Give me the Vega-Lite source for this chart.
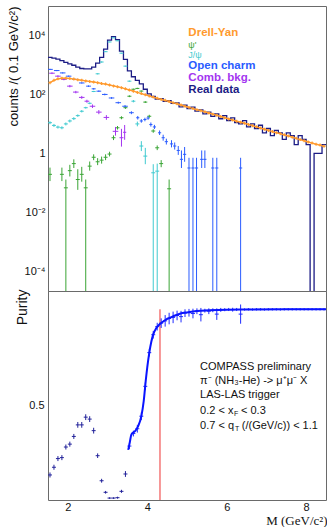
{
"$schema":"https://vega.github.io/schema/vega-lite/v6.json",
"background":"white",
"padding":{"left":6,"top":5,"right":0,"bottom":0},
"spacing":0,
"bounds":"flush",
"resolve":{"scale":{"color":"independent"}},
"config":{"view":{"stroke":"#6a6a6a","strokeWidth":1},"font":"Liberation Sans","axis":{"grid":false,"domain":false,"tickColor":"#444","labelColor":"#111","titleColor":"#111","labelFont":"Liberation Sans","titleFont":"Liberation Sans"}},
"datasets":{
"data":[{"x":1.5,"n":1820},{"x":1.55,"n":1820},{"x":1.65,"n":1700},{"x":1.75,"n":1585},{"x":1.85,"n":1413},{"x":1.95,"n":1230},{"x":2.05,"n":1096},{"x":2.15,"n":977},{"x":2.25,"n":851},{"x":2.35,"n":759},{"x":2.45,"n":741},{"x":2.55,"n":741},{"x":2.65,"n":851},{"x":2.75,"n":1148},{"x":2.85,"n":1820},{"x":2.95,"n":3467},{"x":3.05,"n":6918},{"x":3.15,"n":9120},{"x":3.25,"n":7244},{"x":3.35,"n":2951},{"x":3.45,"n":1549},{"x":3.55,"n":631},{"x":3.65,"n":398},{"x":3.75,"n":300},{"x":3.85,"n":230},{"x":3.95,"n":150},{"x":4.05,"n":105},{"x":4.15,"n":85},{"x":4.25,"n":70},{"x":4.35,"n":72},{"x":4.45,"n":58},{"x":4.55,"n":62},{"x":4.65,"n":50},{"x":4.75,"n":52},{"x":4.85,"n":38},{"x":4.95,"n":43},{"x":5.05,"n":33},{"x":5.15,"n":37},{"x":5.25,"n":27},{"x":5.35,"n":30},{"x":5.45,"n":22},{"x":5.55,"n":25},{"x":5.65,"n":18},{"x":5.75,"n":22},{"x":5.85,"n":15},{"x":5.95,"n":19},{"x":6.05,"n":13},{"x":6.15,"n":16},{"x":6.25,"n":11},{"x":6.35,"n":10},{"x":6.45,"n":13},{"x":6.55,"n":8},{"x":6.65,"n":10},{"x":6.75,"n":7},{"x":6.85,"n":9},{"x":6.95,"n":5},{"x":7.05,"n":7},{"x":7.15,"n":4},{"x":7.25,"n":6},{"x":7.35,"n":5},{"x":7.45,"n":3},{"x":7.55,"n":5},{"x":7.65,"n":4},{"x":7.75,"n":2},{"x":7.85,"n":4},{"x":7.95,"n":3},{"x":8.05,"n":2},{"x":8.15,"n":0.000001},{"x":8.25,"n":1},{"x":8.35,"n":1},{"x":8.45,"n":2},{"x":8.5,"n":2}],
"dy":[{"x":1.55,"y":251},{"x":1.65,"y":302},{"x":1.75,"y":339},{"x":1.85,"y":355},{"x":1.95,"y":355},{"x":2.05,"y":347},{"x":2.15,"y":331},{"x":2.25,"y":316},{"x":2.35,"y":302},{"x":2.45,"y":288},{"x":2.55,"y":275},{"x":2.65,"y":263},{"x":2.75,"y":251},{"x":2.85,"y":234},{"x":2.95,"y":224},{"x":3.05,"y":209},{"x":3.15,"y":195},{"x":3.25,"y":182},{"x":3.35,"y":170},{"x":3.45,"y":155},{"x":3.55,"y":141},{"x":3.65,"y":129},{"x":3.75,"y":117},{"x":3.85,"y":107},{"x":3.95,"y":97.7},{"x":4.05,"y":89.1},{"x":4.15,"y":81.3},{"x":4.25,"y":74.1},{"x":4.35,"y":67.6},{"x":4.45,"y":63.1},{"x":4.55,"y":57.5},{"x":4.65,"y":52.5},{"x":4.75,"y":47.9},{"x":4.85,"y":43.7},{"x":4.95,"y":39.8},{"x":5.05,"y":36.3},{"x":5.15,"y":33.1},{"x":5.25,"y":30.2},{"x":5.35,"y":28.2},{"x":5.45,"y":25.7},{"x":5.55,"y":23.4},{"x":5.65,"y":21.4},{"x":5.75,"y":19.5},{"x":5.85,"y":17.8},{"x":5.95,"y":16.2},{"x":6.05,"y":14.8},{"x":6.15,"y":13.5},{"x":6.25,"y":12.3},{"x":6.35,"y":11.5},{"x":6.45,"y":10.5},{"x":6.55,"y":9.55},{"x":6.65,"y":8.71},{"x":6.75,"y":7.94},{"x":6.85,"y":7.24},{"x":6.95,"y":6.61},{"x":7.05,"y":6.03},{"x":7.15,"y":5.5},{"x":7.25,"y":5.01},{"x":7.35,"y":4.68},{"x":7.45,"y":4.27},{"x":7.55,"y":3.89},{"x":7.65,"y":3.55},{"x":7.75,"y":3.24},{"x":7.85,"y":2.95},{"x":7.95,"y":2.69},{"x":8.05,"y":2.45},{"x":8.15,"y":2.24},{"x":8.25,"y":2.04},{"x":8.35,"y":1.91},{"x":8.45,"y":1.74}],
"comp":[
{"s":"jpsi","x":1.55,"xlo":1.5,"xhi":1.6,"y":11.0,"lo":9.8,"hi":12.3},
{"s":"jpsi","x":1.65,"xlo":1.6,"xhi":1.7,"y":8.9,"lo":7.9,"hi":10.0},
{"s":"jpsi","x":1.75,"xlo":1.7,"xhi":1.8,"y":7.8,"lo":6.95,"hi":8.75},
{"s":"jpsi","x":1.85,"xlo":1.8,"xhi":1.9,"y":7.4,"lo":6.6,"hi":8.3},
{"s":"jpsi","x":1.95,"xlo":1.9,"xhi":2.0,"y":10.0,"lo":8.9,"hi":11.2},
{"s":"jpsi","x":2.05,"xlo":2.0,"xhi":2.1,"y":12.6,"lo":11.2,"hi":14.1},
{"s":"jpsi","x":2.15,"xlo":2.1,"xhi":2.2,"y":15.1,"lo":13.5,"hi":16.9},
{"s":"jpsi","x":2.25,"xlo":2.2,"xhi":2.3,"y":19.1,"lo":17.4,"hi":21.0},
{"s":"jpsi","x":2.35,"xlo":2.3,"xhi":2.4,"y":26.9,"lo":24.5,"hi":29.5},
{"s":"jpsi","x":2.45,"xlo":2.4,"xhi":2.5,"y":35.5,"lo":33.1,"hi":38.1},
{"s":"jpsi","x":2.55,"xlo":2.5,"xhi":2.6,"y":50.1,"lo":46.7,"hi":53.7},
{"s":"jpsi","x":2.65,"xlo":2.6,"xhi":2.7,"y":126,"lo":120,"hi":132},
{"s":"jpsi","x":2.75,"xlo":2.7,"xhi":2.8,"y":501,"lo":478,"hi":525},
{"s":"jpsi","x":2.85,"xlo":2.8,"xhi":2.9,"y":1259,"lo":1200,"hi":1320},
{"s":"jpsi","x":2.95,"xlo":2.9,"xhi":3.0,"y":2818,"lo":2750,"hi":2890},
{"s":"jpsi","x":3.05,"xlo":3.0,"xhi":3.1,"y":6026,"lo":5900,"hi":6150},
{"s":"jpsi","x":3.15,"xlo":3.1,"xhi":3.2,"y":8318,"lo":8150,"hi":8490},
{"s":"jpsi","x":3.25,"xlo":3.2,"xhi":3.3,"y":6607,"lo":6470,"hi":6750},
{"s":"jpsi","x":3.35,"xlo":3.3,"xhi":3.4,"y":2512,"lo":2450,"hi":2575},
{"s":"jpsi","x":3.45,"xlo":3.4,"xhi":3.5,"y":912,"lo":880,"hi":945},
{"s":"jpsi","x":3.55,"xlo":3.5,"xhi":3.6,"y":282,"lo":270,"hi":295},
{"s":"jpsi","x":3.65,"xlo":3.6,"xhi":3.7,"y":59,"lo":53.8,"hi":64.7},
{"s":"jpsi","x":3.75,"xlo":3.7,"xhi":3.8,"y":10,"lo":8.3,"hi":12.0},
{"s":"jpsi","x":3.85,"xlo":3.8,"xhi":3.9,"y":1.78,"lo":1.2,"hi":2.6},
{"s":"jpsi","x":3.95,"xlo":3.9,"xhi":4.0,"y":0.81,"lo":0.43,"hi":1.54},
{"s":"jpsi","x":4.15,"xlo":4.1,"xhi":4.2,"y":0.22,"lo":0.000001,"hi":0.43},
{"s":"jpsi","x":4.25,"xlo":4.2,"xhi":4.3,"y":0.25,"lo":0.000001,"hi":0.45},
{"s":"psip","x":1.55,"xlo":1.5,"xhi":1.6,"y":0.195,"lo":0.115,"hi":0.33},
{"s":"psip","x":1.85,"xlo":1.8,"xhi":1.9,"y":0.195,"lo":0.115,"hi":0.33},
{"s":"psip","x":1.95,"xlo":1.9,"xhi":2.0,"y":0.068,"lo":0.000001,"hi":0.13},
{"s":"psip","x":2.05,"xlo":2.0,"xhi":2.1,"y":0.26,"lo":0.165,"hi":0.41},
{"s":"psip","x":2.15,"xlo":2.1,"xhi":2.2,"y":0.45,"lo":0.32,"hi":0.63},
{"s":"psip","x":2.25,"xlo":2.2,"xhi":2.3,"y":0.13,"lo":0.058,"hi":0.29},
{"s":"psip","x":2.35,"xlo":2.3,"xhi":2.4,"y":0.195,"lo":0.11,"hi":0.35},
{"s":"psip","x":2.45,"xlo":2.4,"xhi":2.5,"y":0.068,"lo":0.000001,"hi":0.13},
{"s":"psip","x":2.55,"xlo":2.5,"xhi":2.6,"y":0.37,"lo":0.26,"hi":0.53},
{"s":"psip","x":2.65,"xlo":2.6,"xhi":2.7,"y":0.74,"lo":0.59,"hi":0.93},
{"s":"psip","x":2.75,"xlo":2.7,"xhi":2.8,"y":0.52,"lo":0.4,"hi":0.69},
{"s":"psip","x":2.85,"xlo":2.8,"xhi":2.9,"y":0.59,"lo":0.45,"hi":0.78},
{"s":"psip","x":2.95,"xlo":2.9,"xhi":3.0,"y":0.74,"lo":0.59,"hi":0.93},
{"s":"psip","x":3.05,"xlo":3.0,"xhi":3.1,"y":0.95,"lo":0.79,"hi":1.14},
{"s":"psip","x":3.15,"xlo":3.1,"xhi":3.2,"y":3.4,"lo":2.83,"hi":4.09},
{"s":"psip","x":3.25,"xlo":3.2,"xhi":3.3,"y":7.4,"lo":6.45,"hi":8.5},
{"s":"psip","x":3.35,"xlo":3.3,"xhi":3.4,"y":16.2,"lo":14.4,"hi":18.2},
{"s":"psip","x":3.45,"xlo":3.4,"xhi":3.5,"y":35.5,"lo":32.4,"hi":38.9},
{"s":"psip","x":3.55,"xlo":3.5,"xhi":3.6,"y":87,"lo":81,"hi":93},
{"s":"psip","x":3.65,"xlo":3.6,"xhi":3.7,"y":150,"lo":143,"hi":157},
{"s":"psip","x":3.75,"xlo":3.7,"xhi":3.8,"y":160,"lo":152,"hi":168},
{"s":"psip","x":3.85,"xlo":3.8,"xhi":3.9,"y":130,"lo":124,"hi":136},
{"s":"psip","x":3.95,"xlo":3.9,"xhi":4.0,"y":55,"lo":51.3,"hi":59},
{"s":"psip","x":4.05,"xlo":4.0,"xhi":4.1,"y":18.2,"lo":16.2,"hi":20.4},
{"s":"psip","x":4.15,"xlo":4.1,"xhi":4.2,"y":5.75,"lo":5.0,"hi":6.6},
{"s":"psip","x":4.25,"xlo":4.2,"xhi":4.3,"y":1.55,"lo":1.29,"hi":1.86},
{"s":"psip","x":4.35,"xlo":4.3,"xhi":4.4,"y":0.45,"lo":0.34,"hi":0.59},
{"s":"psip","x":4.55,"xlo":4.5,"xhi":4.6,"y":0.063,"lo":0.000001,"hi":0.13},
{"s":"cb","x":1.6,"xlo":1.53,"xhi":1.67,"y":525,"lo":490,"hi":562},
{"s":"cb","x":1.75,"xlo":1.68,"xhi":1.82,"y":417,"lo":389,"hi":447},
{"s":"cb","x":1.9,"xlo":1.83,"xhi":1.97,"y":324,"lo":302,"hi":347},
{"s":"cb","x":2.05,"xlo":1.98,"xhi":2.12,"y":191,"lo":174,"hi":210},
{"s":"cb","x":2.2,"xlo":2.13,"xhi":2.27,"y":120,"lo":109,"hi":132},
{"s":"cb","x":2.35,"xlo":2.28,"xhi":2.42,"y":79.4,"lo":70.8,"hi":89.1},
{"s":"cb","x":2.48,"xlo":2.42,"xhi":2.54,"y":58.9,"lo":52.5,"hi":66.1},
{"s":"cb","x":2.62,"xlo":2.55,"xhi":2.69,"y":39.8,"lo":34.7,"hi":45.7},
{"s":"cb","x":2.78,"xlo":2.71,"xhi":2.85,"y":25.1,"lo":21.4,"hi":29.5},
{"s":"cb","x":2.97,"xlo":2.9,"xhi":3.04,"y":16.6,"lo":13.8,"hi":19.9},
{"s":"cb","x":3.2,"xlo":3.13,"xhi":3.27,"y":5.6,"lo":4.0,"hi":7.9},
{"s":"cb","x":3.35,"xlo":3.3,"xhi":3.4,"y":3.4,"lo":1.7,"hi":6.8},
{"s":"cb","x":3.43,"xlo":3.39,"xhi":3.47,"y":5.2,"lo":2.9,"hi":9.2},
{"s":"oc","x":1.55,"xlo":1.5,"xhi":1.62,"y":708,"lo":676,"hi":741},
{"s":"oc","x":1.72,"xlo":1.65,"xhi":1.79,"y":646,"lo":617,"hi":676},
{"s":"oc","x":1.87,"xlo":1.8,"xhi":1.94,"y":537,"lo":513,"hi":562},
{"s":"oc","x":2.02,"xlo":1.95,"xhi":2.09,"y":417,"lo":398,"hi":437},
{"s":"oc","x":2.18,"xlo":2.11,"xhi":2.25,"y":324,"lo":309,"hi":339},
{"s":"oc","x":2.35,"xlo":2.28,"xhi":2.42,"y":245,"lo":234,"hi":257},
{"s":"oc","x":2.52,"xlo":2.46,"xhi":2.58,"y":191,"lo":180,"hi":202},
{"s":"oc","x":2.65,"xlo":2.6,"xhi":2.7,"y":155,"lo":146,"hi":164},
{"s":"oc","x":2.78,"xlo":2.72,"xhi":2.84,"y":129,"lo":122,"hi":137},
{"s":"oc","x":2.93,"xlo":2.86,"xhi":3.0,"y":100,"lo":93.3,"hi":107},
{"s":"oc","x":3.1,"xlo":3.03,"xhi":3.17,"y":75.9,"lo":70.8,"hi":81.3},
{"s":"oc","x":3.27,"xlo":3.2,"xhi":3.34,"y":52.5,"lo":48.5,"hi":56.9},
{"s":"oc","x":3.44,"xlo":3.37,"xhi":3.51,"y":39.8,"lo":36.3,"hi":43.6},
{"s":"oc","x":3.6,"xlo":3.54,"xhi":3.66,"y":24.0,"lo":21.4,"hi":26.9},
{"s":"oc","x":3.76,"xlo":3.72,"xhi":3.8,"y":16.2,"lo":14.1,"hi":18.6},
{"s":"oc","x":3.85,"xlo":3.81,"xhi":3.89,"y":12.6,"lo":11.0,"hi":14.5},
{"s":"oc","x":3.94,"xlo":3.9,"xhi":3.98,"y":14.1,"lo":12.3,"hi":16.2},
{"s":"oc","x":4.02,"xlo":3.98,"xhi":4.06,"y":15.8,"lo":13.8,"hi":18.1},
{"s":"oc","x":4.09,"xlo":4.05,"xhi":4.13,"y":9.5,"lo":8.1,"hi":11.2},
{"s":"oc","x":4.18,"xlo":4.14,"xhi":4.22,"y":7.9,"lo":6.7,"hi":9.3},
{"s":"oc","x":4.31,"xlo":4.27,"xhi":4.35,"y":5.0,"lo":4.2,"hi":6.0},
{"s":"oc","x":4.4,"xlo":4.36,"xhi":4.44,"y":3.4,"lo":2.7,"hi":4.3},
{"s":"oc","x":4.48,"xlo":4.44,"xhi":4.52,"y":2.5,"lo":2.0,"hi":3.15},
{"s":"oc","x":4.61,"xlo":4.57,"xhi":4.65,"y":2.1,"lo":1.6,"hi":2.8},
{"s":"oc","x":4.69,"xlo":4.65,"xhi":4.73,"y":1.78,"lo":1.35,"hi":2.35},
{"s":"oc","x":4.78,"xlo":4.74,"xhi":4.82,"y":1.26,"lo":0.89,"hi":1.78},
{"s":"oc","x":4.86,"xlo":4.82,"xhi":4.9,"y":0.63,"lo":0.32,"hi":1.26},
{"s":"oc","x":4.94,"xlo":4.9,"xhi":4.98,"y":0.93,"lo":0.52,"hi":1.65},
{"s":"oc","x":5.05,"xlo":5.01,"xhi":5.09,"y":0.32,"lo":0.000001,"hi":0.71},
{"s":"oc","x":5.15,"xlo":5.11,"xhi":5.19,"y":0.32,"lo":0.000001,"hi":0.71},
{"s":"oc","x":5.24,"xlo":5.2,"xhi":5.28,"y":0.32,"lo":0.000001,"hi":0.71},
{"s":"oc","x":5.37,"xlo":5.33,"xhi":5.41,"y":0.63,"lo":0.32,"hi":1.26},
{"s":"oc","x":5.45,"xlo":5.41,"xhi":5.49,"y":0.63,"lo":0.32,"hi":1.26},
{"s":"oc","x":5.65,"xlo":5.61,"xhi":5.69,"y":0.32,"lo":0.000001,"hi":0.71},
{"s":"oc","x":5.75,"xlo":5.71,"xhi":5.79,"y":0.32,"lo":0.000001,"hi":0.71},
{"s":"oc","x":6.35,"xlo":6.31,"xhi":6.39,"y":0.32,"lo":0.000001,"hi":0.71}
],
"legend":[{"label":"Drell-Yan","s":"dy","x":5.034,"y":12200},{"label":"ψ'","s":"psip","x":5.034,"y":4700},{"label":"J/ψ","s":"jpsi","x":5.034,"y":2250},{"label":"Open charm","s":"oc","x":5.034,"y":946},{"label":"Comb. bkg.","s":"cb","x":5.034,"y":371},{"label":"Real data","s":"rd","x":5.034,"y":145}],
"pur":[
{"s":"low","x":1.55,"xlo":1.5,"xhi":1.6,"y":0.14,"lo":0.127,"hi":0.153},
{"s":"low","x":1.65,"xlo":1.6,"xhi":1.7,"y":0.18,"lo":0.167,"hi":0.193},
{"s":"low","x":1.75,"xlo":1.7,"xhi":1.8,"y":0.225,"lo":0.212,"hi":0.238},
{"s":"low","x":1.85,"xlo":1.8,"xhi":1.9,"y":0.23,"lo":0.217,"hi":0.243},
{"s":"low","x":1.95,"xlo":1.9,"xhi":2.0,"y":0.285,"lo":0.272,"hi":0.298},
{"s":"low","x":2.05,"xlo":2.0,"xhi":2.1,"y":0.3,"lo":0.287,"hi":0.313},
{"s":"low","x":2.15,"xlo":2.1,"xhi":2.2,"y":0.34,"lo":0.327,"hi":0.353},
{"s":"low","x":2.25,"xlo":2.2,"xhi":2.3,"y":0.4,"lo":0.385,"hi":0.415},
{"s":"low","x":2.35,"xlo":2.3,"xhi":2.4,"y":0.4,"lo":0.385,"hi":0.415},
{"s":"low","x":2.45,"xlo":2.4,"xhi":2.5,"y":0.44,"lo":0.425,"hi":0.455},
{"s":"low","x":2.55,"xlo":2.5,"xhi":2.6,"y":0.43,"lo":0.415,"hi":0.445},
{"s":"low","x":2.65,"xlo":2.6,"xhi":2.7,"y":0.37,"lo":0.355,"hi":0.385},
{"s":"low","x":2.75,"xlo":2.7,"xhi":2.8,"y":0.24,"lo":0.228,"hi":0.252},
{"s":"low","x":2.85,"xlo":2.8,"xhi":2.9,"y":0.11,"lo":0.1,"hi":0.12},
{"s":"low","x":2.95,"xlo":2.9,"xhi":3.0,"y":0.05,"lo":0.043,"hi":0.057},
{"s":"low","x":3.05,"xlo":3.0,"xhi":3.1,"y":0.02,"lo":0.016,"hi":0.024},
{"s":"low","x":3.15,"xlo":3.1,"xhi":3.2,"y":0.02,"lo":0.016,"hi":0.024},
{"s":"low","x":3.25,"xlo":3.2,"xhi":3.3,"y":0.022,"lo":0.017,"hi":0.027},
{"s":"low","x":3.35,"xlo":3.3,"xhi":3.4,"y":0.055,"lo":0.047,"hi":0.063},
{"s":"low","x":3.45,"xlo":3.4,"xhi":3.5,"y":0.145,"lo":0.13,"hi":0.16},
{"s":"high","x":3.55,"xlo":3.5,"xhi":3.6,"y":0.29,"lo":0.275,"hi":0.305},
{"s":"high","x":3.65,"xlo":3.6,"xhi":3.7,"y":0.355,"lo":0.34,"hi":0.37},
{"s":"high","x":3.75,"xlo":3.7,"xhi":3.8,"y":0.38,"lo":0.36,"hi":0.4},
{"s":"high","x":3.85,"xlo":3.8,"xhi":3.9,"y":0.445,"lo":0.425,"hi":0.465},
{"s":"high","x":3.95,"xlo":3.9,"xhi":4.0,"y":0.6,"lo":0.58,"hi":0.62},
{"s":"high","x":4.05,"xlo":4.0,"xhi":4.1,"y":0.775,"lo":0.755,"hi":0.795},
{"s":"high","x":4.15,"xlo":4.1,"xhi":4.2,"y":0.868,"lo":0.848,"hi":0.888},
{"s":"high","x":4.25,"xlo":4.2,"xhi":4.3,"y":0.91,"lo":0.89,"hi":0.93},
{"s":"high","x":4.35,"xlo":4.3,"xhi":4.4,"y":0.928,"lo":0.903,"hi":0.953},
{"s":"high","x":4.45,"xlo":4.4,"xhi":4.5,"y":0.94,"lo":0.91,"hi":0.97},
{"s":"high","x":4.55,"xlo":4.5,"xhi":4.6,"y":0.952,"lo":0.922,"hi":0.982},
{"s":"high","x":4.65,"xlo":4.6,"xhi":4.7,"y":0.958,"lo":0.928,"hi":0.988},
{"s":"high","x":4.75,"xlo":4.7,"xhi":4.8,"y":0.968,"lo":0.943,"hi":0.993},
{"s":"high","x":4.85,"xlo":4.8,"xhi":4.9,"y":0.962,"lo":0.932,"hi":0.992},
{"s":"high","x":4.95,"xlo":4.9,"xhi":5.0,"y":0.98,"lo":0.96,"hi":1.0},
{"s":"high","x":5.05,"xlo":5.0,"xhi":5.1,"y":0.982,"lo":0.962,"hi":1.002},
{"s":"high","x":5.15,"xlo":5.1,"xhi":5.2,"y":0.978,"lo":0.953,"hi":1.003},
{"s":"high","x":5.25,"xlo":5.2,"xhi":5.3,"y":0.99,"lo":0.975,"hi":1.005},
{"s":"high","x":5.35,"xlo":5.3,"xhi":5.4,"y":0.972,"lo":0.937,"hi":1.007},
{"s":"high","x":5.45,"xlo":5.4,"xhi":5.5,"y":0.993,"lo":0.983,"hi":1.003},
{"s":"high","x":5.55,"xlo":5.5,"xhi":5.6,"y":0.99,"lo":0.975,"hi":1.005},
{"s":"high","x":5.65,"xlo":5.6,"xhi":5.7,"y":0.995,"lo":0.985,"hi":1.005},
{"s":"high","x":5.75,"xlo":5.7,"xhi":5.8,"y":0.975,"lo":0.945,"hi":1.005},
{"s":"high","x":5.85,"xlo":5.8,"xhi":5.9,"y":0.997,"lo":0.987,"hi":1.007},
{"s":"high","x":5.95,"xlo":5.9,"xhi":6.0,"y":0.998,"lo":0.99,"hi":1.006},
{"s":"high","x":6.05,"xlo":6.0,"xhi":6.1,"y":0.999,"lo":0.991,"hi":1.007},
{"s":"high","x":6.15,"xlo":6.1,"xhi":6.2,"y":0.998,"lo":0.988,"hi":1.008},
{"s":"high","x":6.25,"xlo":6.2,"xhi":6.3,"y":0.999,"lo":0.991,"hi":1.007},
{"s":"high","x":6.35,"xlo":6.3,"xhi":6.4,"y":0.975,"lo":0.925,"hi":1.025},
{"s":"high","x":6.45,"xlo":6.4,"xhi":6.5,"y":0.999,"lo":0.993,"hi":1.005},
{"s":"high","x":6.55,"xlo":6.5,"xhi":6.6,"y":1.0,"lo":0.994,"hi":1.006},
{"s":"high","x":6.65,"xlo":6.6,"xhi":6.7,"y":0.999,"lo":0.993,"hi":1.005},
{"s":"high","x":6.75,"xlo":6.7,"xhi":6.8,"y":1.0,"lo":0.994,"hi":1.006},
{"s":"high","x":6.85,"xlo":6.8,"xhi":6.9,"y":1.0,"lo":0.994,"hi":1.006},
{"s":"high","x":6.95,"xlo":6.9,"xhi":7.0,"y":0.999,"lo":0.993,"hi":1.005},
{"s":"high","x":7.05,"xlo":7.0,"xhi":7.1,"y":1.0,"lo":0.994,"hi":1.006},
{"s":"high","x":7.15,"xlo":7.1,"xhi":7.2,"y":1.0,"lo":0.994,"hi":1.006},
{"s":"high","x":7.25,"xlo":7.2,"xhi":7.3,"y":1.0,"lo":0.994,"hi":1.006},
{"s":"high","x":7.35,"xlo":7.3,"xhi":7.4,"y":0.999,"lo":0.993,"hi":1.005},
{"s":"high","x":7.45,"xlo":7.4,"xhi":7.5,"y":1.0,"lo":0.994,"hi":1.006},
{"s":"high","x":7.55,"xlo":7.5,"xhi":7.6,"y":1.0,"lo":0.994,"hi":1.006},
{"s":"high","x":7.65,"xlo":7.6,"xhi":7.7,"y":1.0,"lo":0.994,"hi":1.006},
{"s":"high","x":7.75,"xlo":7.7,"xhi":7.8,"y":1.0,"lo":0.994,"hi":1.006},
{"s":"high","x":7.85,"xlo":7.8,"xhi":7.9,"y":1.0,"lo":0.994,"hi":1.006},
{"s":"high","x":7.95,"xlo":7.9,"xhi":8.0,"y":1.0,"lo":0.994,"hi":1.006},
{"s":"high","x":8.05,"xlo":8.0,"xhi":8.1,"y":1.0,"lo":0.994,"hi":1.006},
{"s":"high","x":8.15,"xlo":8.1,"xhi":8.2,"y":1.0,"lo":0.994,"hi":1.006},
{"s":"high","x":8.25,"xlo":8.2,"xhi":8.3,"y":1.0,"lo":0.994,"hi":1.006},
{"s":"high","x":8.35,"xlo":8.3,"xhi":8.4,"y":1.0,"lo":0.994,"hi":1.006},
{"s":"high","x":8.45,"xlo":8.4,"xhi":8.5,"y":1.0,"lo":0.994,"hi":1.006}
],
"fit":[{"x":3.52,"y":0.27},{"x":3.56,"y":0.31},{"x":3.6,"y":0.35},{"x":3.69,"y":0.367},{"x":3.77,"y":0.393},{"x":3.85,"y":0.445},{"x":3.91,"y":0.523},{"x":3.96,"y":0.627},{"x":4.0,"y":0.7},{"x":4.05,"y":0.774},{"x":4.1,"y":0.83},{"x":4.15,"y":0.87},{"x":4.22,"y":0.9},{"x":4.31,"y":0.922},{"x":4.4,"y":0.937},{"x":4.48,"y":0.948},{"x":4.57,"y":0.956},{"x":4.7,"y":0.968},{"x":4.82,"y":0.977},{"x":5.0,"y":0.984},{"x":5.15,"y":0.988},{"x":5.35,"y":0.992},{"x":5.57,"y":0.995},{"x":5.99,"y":0.998},{"x":6.5,"y":0.999},{"x":7.5,"y":1.0},{"x":8.5,"y":1.0}],
"cut":[{"x":4.32,"y0":0.01,"y1":1.0}],
"note":[{"t":"COMPASS preliminary","x":5.329,"y":0.7},{"t":"π⁻ (NH₃-He) -> μ⁺μ⁻ X","x":5.329,"y":0.627},{"t":"LAS-LAS trigger","x":5.329,"y":0.553},{"t":"0.2 < x","x":5.329,"y":0.474},{"t":"< 0.3","x":6.36,"y":0.474},{"t":"0.7 < q","x":5.329,"y":0.393},{"t":"(/(GeV/c)) < 1.1","x":6.38,"y":0.393}],
"noteSub":[{"t":"F","x":6.185,"y":0.458},{"t":"T","x":6.21,"y":0.377}]
},
"vconcat":[
{"width":278,"height":285,
"layer":[
{"data":{"name":"data"},"mark":{"type":"line","interpolate":"step","color":"#1c1c85","strokeWidth":1.3,"clip":true},
"encoding":{
"x":{"field":"x","type":"quantitative","scale":{"domain":[1.5,8.5],"nice":false,"zero":false},"axis":{"orient":"bottom","values":[2,2.5,3,3.5,4,4.5,5,5.5,6,6.5,7,7.5,8],"labels":false,"title":null,"ticks":true,"tickSize":0,"encode":{"ticks":{"y2":{"condition":{"test":"datum.value % 2 == 0","value":-5},"value":-3}}}}},
"y":{"field":"n","type":"quantitative","scale":{"type":"log","domain":[2.15e-5,100000],"nice":false},"axis":{"values":[0.0001,0.001,0.01,0.1,1,10,100,1000,10000],"labelExpr":"datum.value == 10000 ? '10⁴' : datum.value == 100 ? '10²' : datum.value == 1 ? '1' : datum.value == 0.01 ? '10⁻²' : datum.value == 0.0001 ? '10⁻⁴' : ''","labelPadding":3,"labelFontSize":11,"labelOverlap":false,"labelFlush":false,"ticks":true,"tickSize":0,"encode":{"ticks":{"x2":{"condition":{"test":"abs(round(log(datum.value)/LN10)) % 2 == 0","value":10},"value":6}}},"title":"counts /( 0.1 GeV/c²)","titleX":-35,"titleY":0,"titleAlign":"right","titleAngle":270,"titleBaseline":"middle","titleFontSize":13,"titleFontWeight":"normal"}}
}},
{"data":{"name":"comp"},"mark":{"type":"rule","strokeWidth":1,"clip":true},
"encoding":{"x":{"field":"xlo","type":"quantitative","scale":{"domain":[1.5,8.5],"nice":false,"zero":false}},"x2":{"field":"xhi"},
"y":{"field":"y","type":"quantitative","scale":{"type":"log","domain":[2.15e-5,100000],"nice":false}},
"color":{"field":"s","type":"nominal","scale":{"domain":["dy","psip","jpsi","oc","cb","rd"],"range":["#ff9a2e","#3aa535","#3fcad0","#2a5cff","#a335f0","#1c1c85"]},"legend":null}}},
{"data":{"name":"comp"},"mark":{"type":"rule","strokeWidth":1,"clip":true},
"encoding":{"x":{"field":"x","type":"quantitative","scale":{"domain":[1.5,8.5],"nice":false,"zero":false}},
"y":{"field":"lo","type":"quantitative","scale":{"type":"log","domain":[2.15e-5,100000],"nice":false}},"y2":{"field":"hi"},
"color":{"field":"s","type":"nominal","scale":{"domain":["dy","psip","jpsi","oc","cb","rd"],"range":["#ff9a2e","#3aa535","#3fcad0","#2a5cff","#a335f0","#1c1c85"]},"legend":null}}},
{"data":{"name":"dy"},"mark":{"type":"line","color":"#ff9a2e","strokeWidth":1.4,"clip":true},
"encoding":{"x":{"field":"x","type":"quantitative","scale":{"domain":[1.5,8.5],"nice":false,"zero":false}},
"y":{"field":"y","type":"quantitative","scale":{"type":"log","domain":[2.15e-5,100000],"nice":false}}}},
{"data":{"name":"dy"},"mark":{"type":"point","shape":"cross","filled":true,"size":9,"color":"#ff9a2e","opacity":1,"clip":true},
"encoding":{"x":{"field":"x","type":"quantitative","scale":{"domain":[1.5,8.5],"nice":false,"zero":false}},
"y":{"field":"y","type":"quantitative","scale":{"type":"log","domain":[2.15e-5,100000],"nice":false}}}},
{"data":{"name":"legend"},"transform":[{"filter":"datum.s != 'psip' && datum.s != 'jpsi'"}],"mark":{"type":"text","align":"left","baseline":"middle","fontSize":11.5,"fontWeight":"bold","font":"Liberation Sans"},
"encoding":{"x":{"field":"x","type":"quantitative","scale":{"domain":[1.5,8.5],"nice":false,"zero":false}},
"y":{"field":"y","type":"quantitative","scale":{"type":"log","domain":[2.15e-5,100000],"nice":false}},
"text":{"field":"label"},
"color":{"field":"s","type":"nominal","scale":{"domain":["dy","psip","jpsi","oc","cb","rd"],"range":["#ff9a2e","#3aa535","#3fcad0","#2a5cff","#a335f0","#1c1c85"]},"legend":null}}},
{"data":{"name":"legend"},"transform":[{"filter":"datum.s == 'psip' || datum.s == 'jpsi'"}],"mark":{"type":"text","align":"left","baseline":"middle","fontSize":9,"font":"Liberation Sans"},
"encoding":{"x":{"field":"x","type":"quantitative","scale":{"domain":[1.5,8.5],"nice":false,"zero":false}},
"y":{"field":"y","type":"quantitative","scale":{"type":"log","domain":[2.15e-5,100000],"nice":false}},
"text":{"field":"label"},
"color":{"field":"s","type":"nominal","scale":{"domain":["dy","psip","jpsi","oc","cb","rd"],"range":["#ff9a2e","#3aa535","#3fcad0","#2a5cff","#a335f0","#1c1c85"]},"legend":null}}}
]},
{"width":278,"height":209,
"layer":[
{"data":{"name":"cut"},"mark":{"type":"rule","color":"#ee3333","strokeWidth":1,"clip":true},
"encoding":{
"x":{"field":"x","type":"quantitative","scale":{"domain":[1.5,8.5],"nice":false,"zero":false},"axis":{"orient":"bottom","values":[2,2.5,3,3.5,4,4.5,5,5.5,6,6.5,7,7.5,8],"labelExpr":"datum.value % 2 == 0 ? format(datum.value, 'd') : ''","labelPadding":1,"labelFontSize":11,"labelOverlap":false,"labelFlush":false,"ticks":true,"tickSize":0,"encode":{"ticks":{"y2":{"condition":{"test":"datum.value % 2 == 0","value":-5},"value":-3}}},"title":"M (GeV/c²)","titleFont":"Liberation Serif","titleFontSize":13,"titleFontWeight":"normal","titleX":279,"titleY":20,"titleAlign":"right","titleBaseline":"middle","titleAngle":0}},
"y":{"field":"y0","type":"quantitative","scale":{"domain":[0.01,1.095],"nice":false,"zero":false},"axis":{"values":[0.1,0.2,0.3,0.4,0.5,0.6,0.7,0.8,0.9,1],"labelExpr":"datum.value > 0.95 ? '1' : (datum.value > 0.45 && datum.value < 0.55) ? '0.5' : ''","labelPadding":4,"labelFontSize":11,"labelOverlap":false,"labelFlush":false,"labelBound":false,"ticks":true,"tickSize":0,"encode":{"ticks":{"x2":{"condition":{"test":"datum.value > 0.95 || (datum.value > 0.45 && datum.value < 0.55)","value":9},"value":5}}},"title":"Purity","titleX":-25.5,"titleY":-2,"titleAlign":"right","titleAngle":270,"titleBaseline":"middle","titleFontSize":14,"titleFontWeight":"normal"}},
"y2":{"field":"y1"}}},
{"data":{"name":"pur"},"mark":{"type":"rule","strokeWidth":1,"clip":true},
"encoding":{"x":{"field":"xlo","type":"quantitative","scale":{"domain":[1.5,8.5],"nice":false,"zero":false}},"x2":{"field":"xhi"},
"y":{"field":"y","type":"quantitative","scale":{"domain":[0.01,1.095],"nice":false,"zero":false}},
"color":{"field":"s","type":"nominal","scale":{"domain":["low","high"],"range":["#22229a","#1f2bff"]},"legend":null}}},
{"data":{"name":"pur"},"mark":{"type":"rule","strokeWidth":1,"clip":true},
"encoding":{"x":{"field":"x","type":"quantitative","scale":{"domain":[1.5,8.5],"nice":false,"zero":false}},
"y":{"field":"lo","type":"quantitative","scale":{"domain":[0.01,1.095],"nice":false,"zero":false}},"y2":{"field":"hi"},
"color":{"field":"s","type":"nominal","scale":{"domain":["low","high"],"range":["#22229a","#1f2bff"]},"legend":null}}},
{"data":{"name":"fit"},"mark":{"type":"line","interpolate":"monotone","color":"#0a14ff","strokeWidth":2,"clip":true},
"encoding":{"x":{"field":"x","type":"quantitative","scale":{"domain":[1.5,8.5],"nice":false,"zero":false}},
"y":{"field":"y","type":"quantitative","scale":{"domain":[0.01,1.095],"nice":false,"zero":false}}}},
{"data":{"name":"note"},"mark":{"type":"text","align":"left","baseline":"middle","fontSize":11,"font":"Liberation Sans","color":"#111"},
"encoding":{"x":{"field":"x","type":"quantitative","scale":{"domain":[1.5,8.5],"nice":false,"zero":false}},
"y":{"field":"y","type":"quantitative","scale":{"domain":[0.01,1.095],"nice":false,"zero":false}},"text":{"field":"t"}}},
{"data":{"name":"noteSub"},"mark":{"type":"text","align":"left","baseline":"middle","fontSize":7,"font":"Liberation Sans","color":"#111"},
"encoding":{"x":{"field":"x","type":"quantitative","scale":{"domain":[1.5,8.5],"nice":false,"zero":false}},
"y":{"field":"y","type":"quantitative","scale":{"domain":[0.01,1.095],"nice":false,"zero":false}},"text":{"field":"t"}}}
]}
]
}
